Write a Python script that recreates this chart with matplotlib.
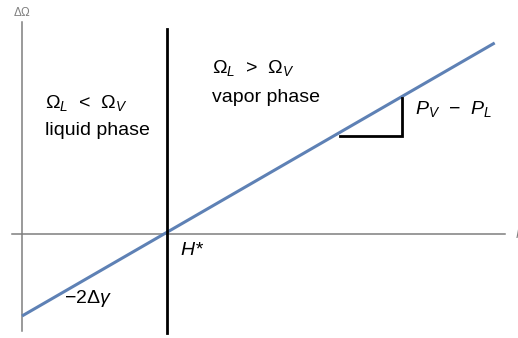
import numpy as np
import matplotlib
matplotlib.use('Agg')
import matplotlib.pyplot as plt

plt.rcParams['font.family'] = 'Liberation Sans'
plt.rcParams['mathtext.fontset'] = 'custom'
plt.rcParams['mathtext.rm'] = 'Liberation Sans'
plt.rcParams['mathtext.it'] = 'Liberation Sans:italic'
plt.rcParams['mathtext.sf'] = 'Liberation Sans'

# grand potential difference vs field, straight line through H*
H = [0.0, 3.26]
dOmega = [-1.0, 2.33]
H_star = 1.0

# slope triangle
tri_x = [2.19, 2.62, 2.62]
tri_y = [1.19, 1.19, 1.66]

axis_col = '#7f7f7f'
blue = '#5e81b5'

fig = plt.figure(figsize=(5.18, 3.38), dpi=100)
ax = fig.add_axes([0, 0, 1, 1])
ax.set_xlim(-22/145, (518-22)/145)
ax.set_ylim(-104/82, 234/82)
ax.axis('off')

# axes drawn by hand, Mathematica style
ax.plot([-0.069, 3.33], [0, 0], color=axis_col, lw=1.1)
ax.plot([0, 0], [-1.183, 2.585], color=axis_col, lw=1.1)
ax.text(0, 2.707, r'$\Delta\Omega$', color=axis_col, fontsize=8.5, ha='center', va='center')
ax.text(3.40, 0, r'$H$', color=axis_col, fontsize=9, ha='left', va='center')

ax.plot(H, dOmega, color=blue, lw=2.2, solid_capstyle='butt')
ax.plot([H_star, H_star], [-1.21, 2.5], color='black', lw=2.0)
ax.plot(tri_x, tri_y, color='black', lw=2.0, solid_joinstyle='miter')

fs = 14
ax.text(0.16, 1.60, r'$\Omega_L$  <  $\Omega_V$', fontsize=fs, ha='left', va='center')
ax.text(0.16, 1.26, 'liquid phase', fontsize=fs, ha='left', va='center')
ax.text(1.31, 2.02, r'$\Omega_L$  >  $\Omega_V$', fontsize=fs, ha='left', va='center')
ax.text(1.31, 1.67, 'vapor phase', fontsize=fs, ha='left', va='center')
ax.text(2.71, 1.53, r'$P_V$  $-$  $P_L$', fontsize=fs, ha='left', va='center')
ax.text(1.09, -0.20, r'$H$*', fontsize=fs, ha='left', va='center', style='italic')
ax.text(0.29, -0.79, r'$-2\Delta\gamma$', fontsize=fs, ha='left', va='center')

fig.savefig('out.png', dpi=100)
